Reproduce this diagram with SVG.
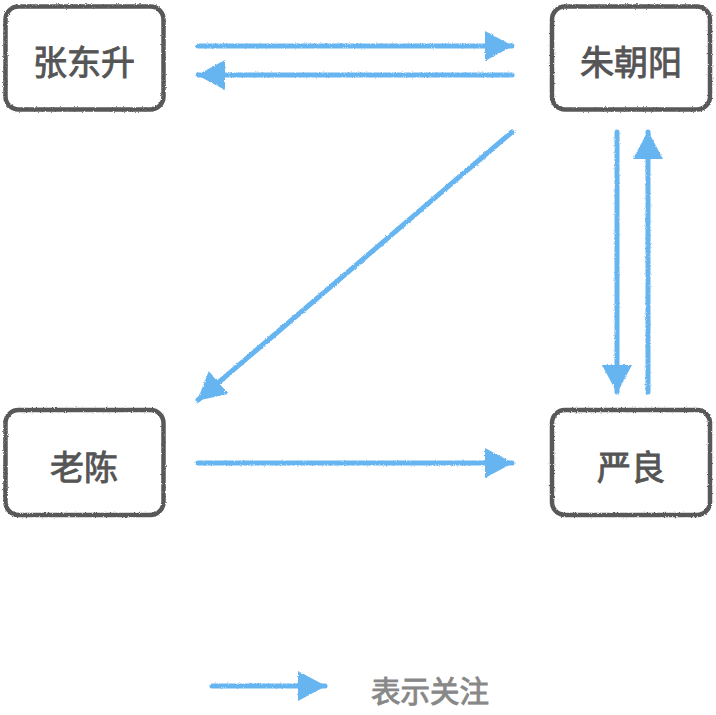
<svg xmlns="http://www.w3.org/2000/svg" width="716" height="715" viewBox="0 0 716 715">
  <defs>
    <filter id="rough" filterUnits="userSpaceOnUse" x="0" y="0" width="716" height="715">
      <feTurbulence type="fractalNoise" baseFrequency="0.9" numOctaves="2" seed="3" result="n"/>
      <feDisplacementMap in="SourceGraphic" in2="n" scale="2.5" xChannelSelector="R" yChannelSelector="G"/>
    </filter>
    <marker id="ah" viewBox="0 0 28 30" refX="27" refY="15" markerWidth="28" markerHeight="30" markerUnits="userSpaceOnUse" orient="auto">
      <path d="M0,0 L28,15 L0,30 Z" fill="#66b5f0"/>
    </marker>
  </defs>
  <style>
    .box { fill: #fff; stroke: #595959; stroke-width: 4.5; }
    .lbl { font-family: "Noto Sans CJK SC", "Noto Sans", sans-serif; font-size: 34px; font-weight: 400; fill: #555; stroke: #555; stroke-width: 0.9; text-anchor: middle; dominant-baseline: central; }
    .edge { stroke: #66b5f0; stroke-width: 5; fill: none; stroke-linecap: round; marker-end: url(#ah); }
    .legend { font-family: "Noto Sans CJK SC", "Noto Sans", sans-serif; font-size: 29.5px; font-weight: 400; fill: #888; stroke: #888; stroke-width: 0.9; dominant-baseline: central; }
  </style>
  <rect width="716" height="715" fill="#fff"/>
  <g id="connectors" filter="url(#rough)">
    <line class="edge" x1="198" y1="46" x2="512" y2="46"/>
    <line class="edge" x1="512" y1="75" x2="198" y2="75"/>
    <line class="edge" x1="512" y1="132" x2="198" y2="400"/>
    <line class="edge" x1="617" y1="132" x2="617" y2="392"/>
    <line class="edge" x1="648" y1="392" x2="648" y2="132"/>
    <line class="edge" x1="198" y1="463" x2="512" y2="463"/>
  </g>
  <g id="node-zhangdongsheng">
    <rect class="box" x="5.5" y="6.5" width="158" height="103" rx="13" filter="url(#rough)"/>
    <text class="lbl" x="84" y="60">张东升</text>
  </g>
  <g id="node-zhuzhaoyang">
    <rect class="box" x="552" y="6.5" width="158" height="103" rx="13" filter="url(#rough)"/>
    <text class="lbl" x="631" y="60">朱朝阳</text>
  </g>
  <g id="node-laochen">
    <rect class="box" x="5.5" y="410" width="158" height="105" rx="13" filter="url(#rough)"/>
    <text class="lbl" x="84" y="465">老陈</text>
  </g>
  <g id="node-yanliang">
    <rect class="box" x="552" y="410" width="158" height="105" rx="13" filter="url(#rough)"/>
    <text class="lbl" x="631" y="465">严良</text>
  </g>
  <g id="legend">
    <line class="edge" x1="212" y1="686" x2="325" y2="686" filter="url(#rough)"/>
    <text class="legend" x="371" y="689">表示关注</text>
  </g>
</svg>
